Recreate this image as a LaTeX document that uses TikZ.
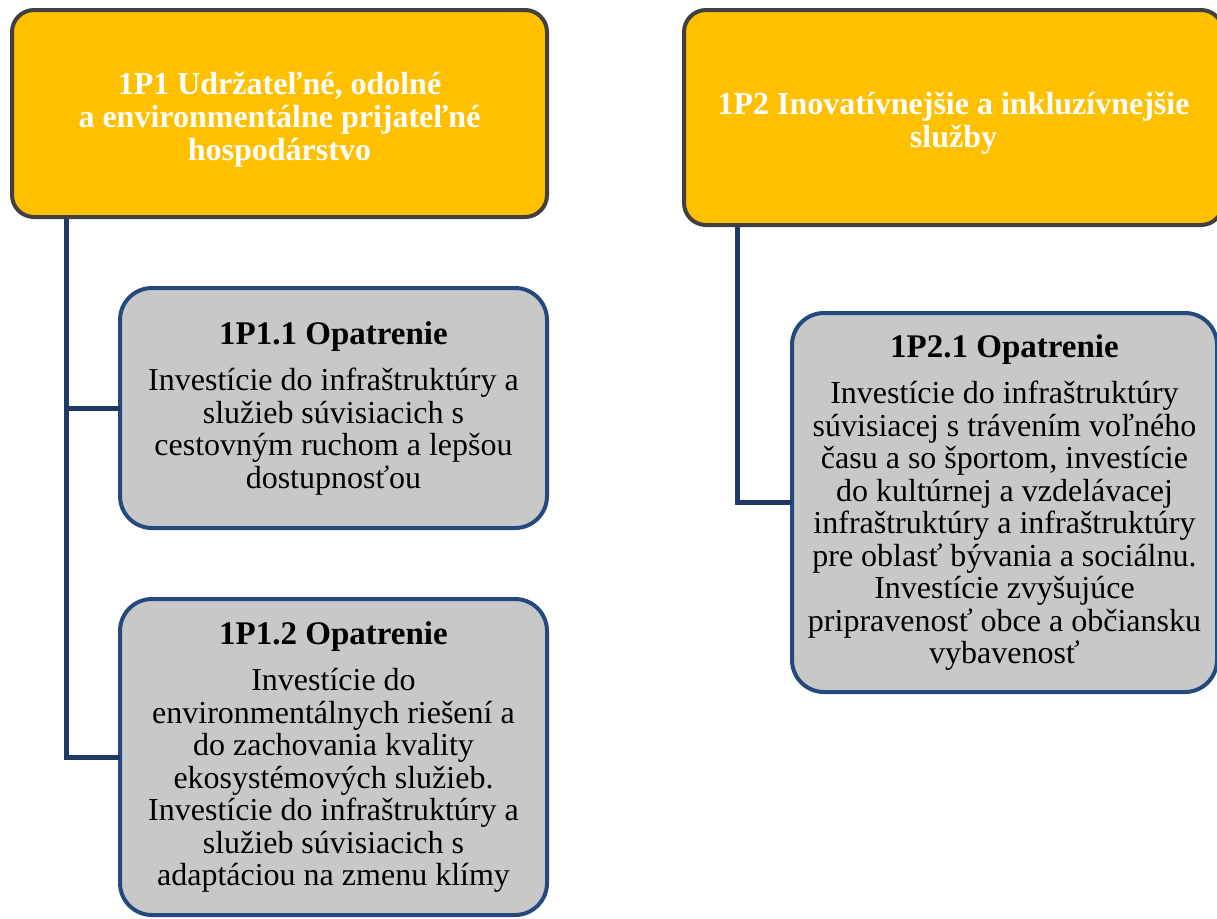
\documentclass[tikz,border=0pt]{standalone}
\usepackage{fontspec}
\setmainfont{Liberation Serif}
\definecolor{gold}{HTML}{FFC000}
\definecolor{topborder}{HTML}{404040}
\definecolor{boxgray}{HTML}{C8C8C8}
\definecolor{boxblue}{HTML}{24497C}
\definecolor{linkblue}{HTML}{1F3864}
\begin{document}
\begin{tikzpicture}[x=1pt,y=-1pt,
  topbox/.style={draw=topborder, line width=4pt, fill=gold, rounded corners=22pt,
    text=white, font=\fontsize{32}{33}\selectfont\bfseries, align=center,
    inner sep=0pt, outer sep=0pt},
  subbox/.style={draw=boxblue, line width=4pt, fill=boxgray, rounded corners=32pt,
    text=black, font=\fontsize{32}{32.5}\selectfont, align=center,
    inner sep=0pt, outer sep=0pt},
  link/.style={draw=linkblue, line width=5pt, line join=miter}]
\useasboundingbox (0,0) rectangle (1217,918);
\clip (0,0) rectangle (1217,918);
\fill[white] (0,0) rectangle (1217,918);

\coordinate (lx) at (66,0);
\coordinate (rx) at (737,0);

\node[topbox, minimum width=535pt, minimum height=207pt] (A) at (279.5,113.5)
  {\rule{0pt}{34pt}1P1 Udržateľné, odolné\\ a environmentálne prijateľné\\ hospodárstvo};
\node[topbox, minimum width=539pt, minimum height=215pt] (B) at (953.5,117.5)
  {\rule{0pt}{34pt}1P2 Inovatívnejšie a inkluzívnejšie\\ služby};
\node[subbox, minimum width=427pt, minimum height=240pt] (C) at (333.5,408)
  {{\fontsize{33}{32.5}\selectfont\bfseries 1P1.1 Opatrenie}\\[14pt]
   Investície do infraštruktúry a\\ služieb súvisiacich s\\ cestovným ruchom a lepšou\\ dostupnosťou};
\node[subbox, minimum width=427pt, minimum height=316pt] (D) at (333.5,757)
  {{\fontsize{33}{32.5}\selectfont\bfseries 1P1.2 Opatrenie}\\[14pt]
   Investície do\\ environmentálnych riešení a\\ do zachovania kvality\\ ekosystémových služieb.\\
   Investície do infraštruktúry a\\ služieb súvisiacich s\\ adaptáciou na zmenu klímy};
\node[subbox, minimum width=425pt, minimum height=379pt] (E) at (1004.5,502.5)
  {{\fontsize{33}{32.5}\selectfont\bfseries 1P2.1 Opatrenie}\\[14pt]
   Investície do infraštruktúry\\ súvisiacej s trávením voľného\\ času a so športom, investície\\
   do kultúrnej a vzdelávacej\\ infraštruktúry a infraštruktúry\\ pre oblasť bývania a sociálnu.\\
   Investície zvyšujúce\\ pripravenosť obce a občiansku\\ vybavenosť};

\draw[link] ([yshift=-2pt]A.south -| lx) |- (D.west);
\draw[link] ([yshift=-2pt]A.south -| lx) |- (C.west);
\draw[link] ([yshift=-2pt]B.south -| rx) |- (E.west);
\end{tikzpicture}
\end{document}
